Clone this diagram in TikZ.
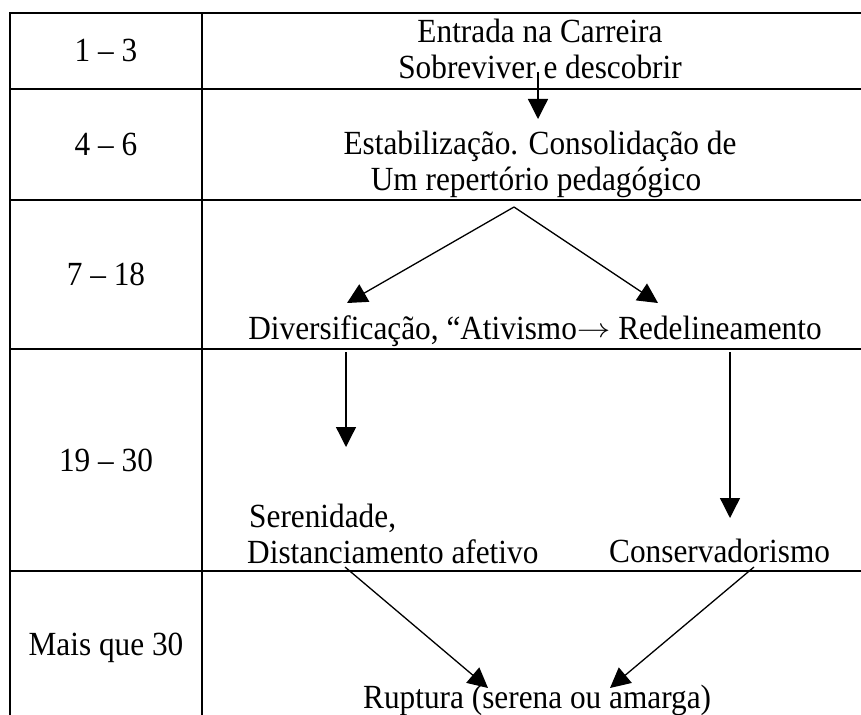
\documentclass[tikz,border=0pt]{standalone}
\usepackage{fontspec}
\setmainfont{Liberation Serif}
\usetikzlibrary{arrows.meta}
\newcommand{\tallt}[1]{\scalebox{1}[1.08]{#1}}
\newcommand{\bigarr}{\raisebox{1pt}{\scalebox{1.35}[1]{$\rightarrow$}}}
\begin{document}
\begin{tikzpicture}[x=1pt,y=-1pt,
  tbl/.style={line width=2.2pt},
  arr/.style={line width=1.3pt,-{Triangle[length=20pt,width=20pt]}},
  txt/.style={inner sep=0pt,anchor=base,font=\fontsize{31.3}{36}\selectfont},
  txtl/.style={txt,anchor=base west}]
\useasboundingbox (0,0) rectangle (861,714);
\clip (0,0) rectangle (861,714);
% table
\draw[tbl] (10,13) rectangle (880,719);
\draw[tbl] (202,13) -- (202,719);
\foreach \yy in {89,200,349,571} \draw[tbl] (10,\yy) -- (880,\yy);
% left column
\node[txt] (p1) at (106,62) {\tallt{1 – 3}};
\node[txt] (p2) at (106,156) {\tallt{4 – 6}};
\node[txt] (p3) at (106,285) {\tallt{7 – 18}};
\node[txt] (p4) at (106,471) {\tallt{19 – 30}};
\node[txt] (p5) at (106,655) {\tallt{Mais que 30}};
% right column
\node[txt] (e1) at (540,43) {\tallt{Entrada na Carreira}};
\node[txt] (e2) at (540,79) {\tallt{Sobreviver e descobrir}};
\node[txt] (s1) at (540,155) {\tallt{Estabilização. Consolidação de}};
\node[txt] (s2) at (536,190) {\tallt{Um repertório pedagógico}};
\node[txt] (d1) at (535,339) {\tallt{Diversificação, “Ativismo\bigarr{} Redelineamento}};
\node[txtl] (r1) at (249,527) {\tallt{Serenidade,}};
\node[txtl] (r2) at (247,563) {\tallt{Distanciamento afetivo}};
\node[txtl] (c1) at (609,562) {\tallt{Conservadorismo}};
\node[txtl] (u1) at (363,708) {\tallt{Ruptura (serena ou amarga)}};
% connector ends
\coordinate (a1s) at (538,72);
\coordinate (a1e) at (538,119);
\coordinate (vtop) at (514,207);
\coordinate (vl) at (347,303);
\coordinate (vr) at (658,303);
\coordinate (l1s) at (346,352);
\coordinate (l1e) at (346,447);
\coordinate (l2s) at (730,352);
\coordinate (l2e) at (730,518);
\coordinate (b1s) at (345,567);
\coordinate (b1e) at (488,688);
\coordinate (b2s) at (754,567);
\coordinate (b2e) at (610,688);
% arrows
\draw[arr] (a1s) -- (a1e);
\draw[arr] (vtop) -- (vl);
\draw[arr] (vtop) -- (vr);
\draw[arr] (l1s) -- (l1e);
\draw[arr] (l2s) -- (l2e);
\draw[arr] (b1s) -- (b1e);
\draw[arr] (b2s) -- (b2e);
\end{tikzpicture}
\end{document}
